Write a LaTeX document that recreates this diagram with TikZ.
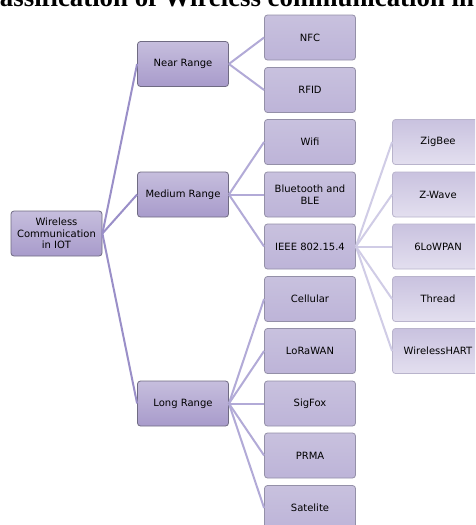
\documentclass[tikz,border=0pt]{standalone}
\usepackage{fontspec}
\setmainfont{DejaVu Sans}
\newfontfamily\titlefont{Liberation Serif}
\usetikzlibrary{positioning}
\definecolor{boxtop}{HTML}{C6BEDD}
\definecolor{boxbot}{HTML}{A89BCB}
\definecolor{boxedge}{HTML}{6F6B82}
\definecolor{leaffill}{HTML}{C8C1DE}
\definecolor{leafbot}{HTML}{BDB4D8}
\definecolor{leafedge}{HTML}{9490A8}
\definecolor{subtop}{HTML}{C9C2DF}
\definecolor{subbot}{HTML}{E3DFEF}
\definecolor{subedge}{HTML}{B9B4CC}
\definecolor{linkdark}{HTML}{9A8FC8}
\definecolor{linkmid}{HTML}{B2AAD7}
\definecolor{linklight}{HTML}{D0CCE6}
\tikzset{
  catbox/.style={draw=boxedge, line width=0.8pt, rounded corners=3pt,
    top color=boxtop, bottom color=boxbot, minimum width=91pt,
    minimum height=45pt, align=center, inner sep=1pt,
    font=\fontsize{10}{11.5}\selectfont},
  leafbox/.style={catbox, draw=leafedge, top color=leaffill, bottom color=leafbot},
  subbox/.style={catbox, draw=subedge, top color=subtop, bottom color=subbot},
  link/.style={draw=linkdark, line width=2pt},
  midlink/.style={draw=linkmid, line width=2pt},
  lightlink/.style={draw=linklight, line width=2pt}
}
\begin{document}
\begin{tikzpicture}[x=1pt,y=-1pt]
   \path[use as bounding box, clip] (0,0) rectangle (475,525);
   \fill[white] (0,0) rectangle (475,525);
   % title, cut off by the frame
   \node[anchor=base west, inner sep=0pt,
     font=\titlefont\fontsize{26.8}{30}\selectfont\bfseries] (title) at (-27,6)
     {Classification of Wireless communication in IOT};

   \node[catbox] (wci) at (56.5,233.5) {Wireless\\Communication\\in IOT};
   \node[catbox] (near) at (183,64) {Near Range};
   \node[catbox] (medium) at (183,194.5) {Medium Range};
   \node[catbox] (long) at (183,403.5) {Long Range};

   \node[leafbox] (nfc) at (310,37.5) {NFC};
   \node[leafbox] (rfid) at (310,90) {RFID};
   \node[leafbox] (wifi) at (310,142) {Wifi};
   \node[leafbox] (ble) at (310,194.5) {Bluetooth and\\BLE};
   \node[leafbox] (ieee) at (310,246.5) {IEEE 802.15.4};
   \node[leafbox] (cellular) at (310,299) {Cellular};
   \node[leafbox] (lorawan) at (310,351) {LoRaWAN};
   \node[leafbox] (sigfox) at (310,403.5) {SigFox};
   \node[leafbox] (prma) at (310,455.5) {PRMA};
   \node[leafbox] (satelite) at (310,508) {Satelite};

   \node[subbox] (zigbee) at (438,142) {ZigBee};
   \node[subbox] (zwave) at (438,194.5) {Z-Wave};
   \node[subbox] (lowpan) at (438,246.5) {6LoWPAN};
   \node[subbox] (thread) at (438,299) {Thread};
   \node[subbox] (hart) at (438,351) {WirelessHART};

   \draw[link] (wci.east) -- (near.west);
   \draw[link] (wci.east) -- (medium.west);
   \draw[link] (wci.east) -- (long.west);

   \draw[midlink] (near.east) -- (nfc.west);
   \draw[midlink] (near.east) -- (rfid.west);
   \draw[midlink] (medium.east) -- (wifi.west);
   \draw[midlink] (medium.east) -- (ble.west);
   \draw[midlink] (medium.east) -- (ieee.west);
   \draw[midlink] (long.east) -- (cellular.west);
   \draw[midlink] (long.east) -- (lorawan.west);
   \draw[midlink] (long.east) -- (sigfox.west);
   \draw[midlink] (long.east) -- (prma.west);
   \draw[midlink] (long.east) -- (satelite.west);

   \draw[lightlink] (ieee.east) -- (zigbee.west);
   \draw[lightlink] (ieee.east) -- (zwave.west);
   \draw[lightlink] (ieee.east) -- (lowpan.west);
   \draw[lightlink] (ieee.east) -- (thread.west);
   \draw[lightlink] (ieee.east) -- (hart.west);
\end{tikzpicture}
\end{document}
